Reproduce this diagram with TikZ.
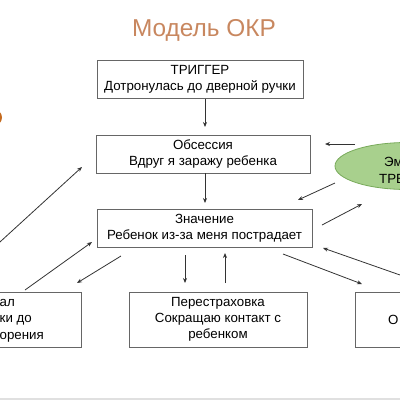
\documentclass[tikz,border=0pt]{standalone}
\usepackage{fontspec}
\setmainfont{Liberation Sans}
\usetikzlibrary{shapes.geometric,arrows.meta}
\definecolor{titlec}{RGB}{200,135,95}
\definecolor{ellfill}{RGB}{168,208,141}
\definecolor{ellline}{RGB}{120,170,90}
\definecolor{orangec}{RGB}{196,106,30}
\begin{document}
\begin{tikzpicture}[x=1pt,y=-1pt,
  box/.style={draw=black!60, line width=0.9pt, inner sep=0pt, align=center,
    font=\fontsize{13.3}{16}\selectfont},
  txt/.style={inner sep=0pt, align=left, font=\fontsize{13.3}{16.5}\selectfont},
  arr/.style={draw=black!80, line width=0.8pt, -{Stealth[length=5pt,width=4pt]}},
  ]
\useasboundingbox (0,0) rectangle (400,400);
\fill[black!12] (0,398) rectangle (400,400);
\node[font=\fontsize{24.4}{28}\selectfont, text=titlec] (title) at (204,30) {Модель ОКР};
\fill[orangec] (-6,117.5) circle (8);
\node[box, minimum width=206pt, minimum height=38pt] (trig) at (200,79) {ТРИГГЕР\\Дотронулась до дверной ручки};
\node[box, minimum width=214pt, minimum height=38pt] (obs) at (203,154) {Обсессия\\Вдруг я заражу ребенка};
\node[box, minimum width=215pt, minimum height=38pt] (mean) at (204.5,228) {Значение\\Ребенок из-за меня пострадает};
\node[box, minimum width=178pt, minimum height=55pt] (reass) at (218,319.5) {Перестраховка\\Сокращаю контакт с\\ребенком};
\node[box, minimum width=161pt, minimum height=55pt] (left) at (0.5,319.5) {};
\node[txt, anchor=west] (lefttext) at (-0.5,320.5) {ал\\ки до\\орения};
\node[box, minimum width=105pt, minimum height=55pt] (right) at (407.5,319.5) {};
\node[txt, anchor=west] (righttext) at (388,320) {О};
\node[ellipse, draw=ellline, fill=ellfill, line width=0.8pt, minimum width=144pt, minimum height=47pt, inner sep=0pt] (emo) at (407,166) {};
\node[txt, anchor=west] (emo1) at (384,162) {Эм};
\node[txt, anchor=west] (emo2) at (379,179) {ТРЕ};
% connector ends
\coordinate (a1s) at (205,99);   \coordinate (a1e) at (205,127);
\coordinate (a2s) at (205,173);  \coordinate (a2e) at (205,203);
\coordinate (a3s) at (355,144);  \coordinate (a3e) at (325,144);
\coordinate (a4s) at (335,183);  \coordinate (a4e) at (298,200);
\coordinate (a5s) at (322,225);  \coordinate (a5e) at (362,204);
\coordinate (a6s) at (-11,252);  \coordinate (a6e) at (82,167);
\coordinate (a7s) at (25,290);   \coordinate (a7e) at (92,242);
\coordinate (a8s) at (121,256);  \coordinate (a8e) at (77,283);
\coordinate (a9s) at (185,255);  \coordinate (a9e) at (185,283);
\coordinate (a10s) at (225,283); \coordinate (a10e) at (225,253);
\coordinate (a11s) at (283,254); \coordinate (a11e) at (362,284);
\coordinate (a12s) at (420,282); \coordinate (a12e) at (323,248);
\foreach \i in {1,...,12} { \draw[arr] (a\i s) -- (a\i e); }
\end{tikzpicture}
\end{document}
